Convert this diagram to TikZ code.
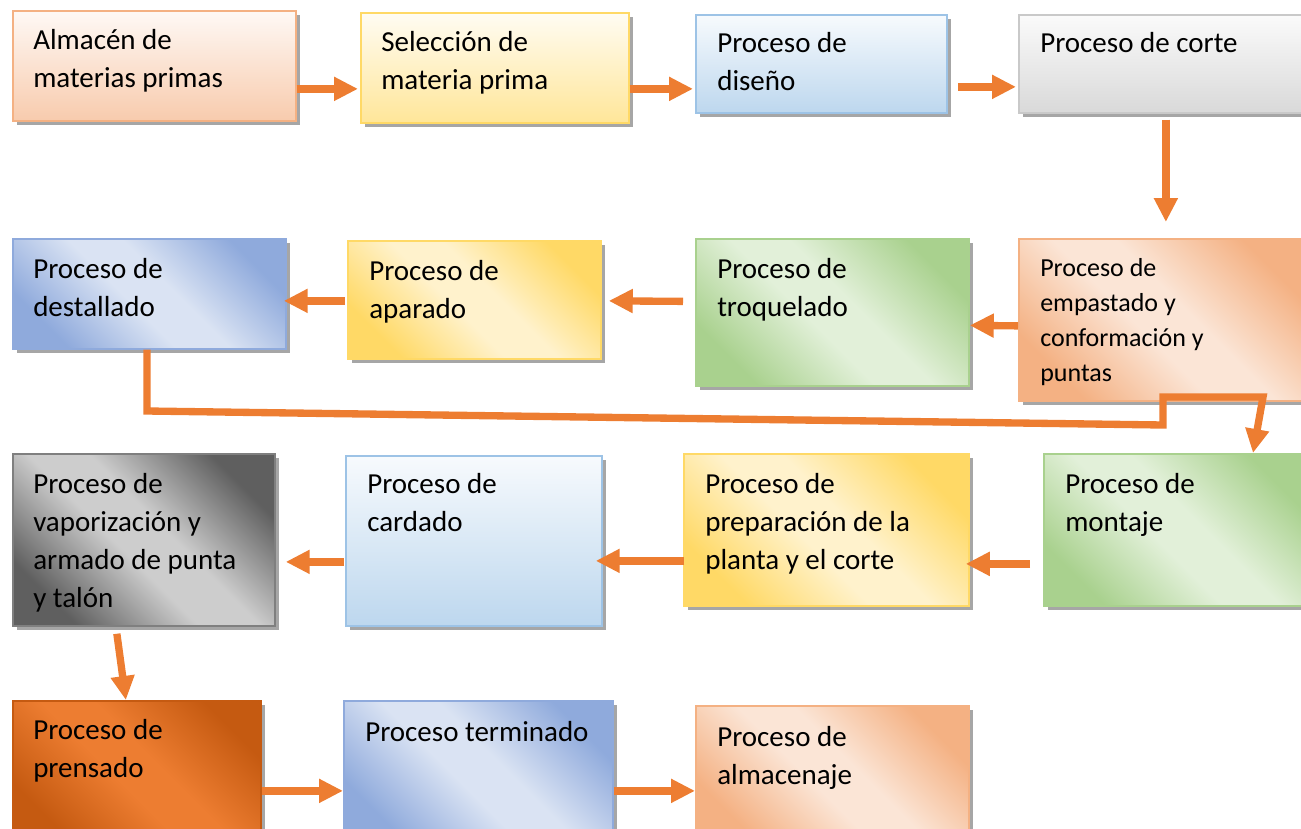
\documentclass[tikz,border=0pt]{standalone}
\usepackage{fontspec}
\setmainfont{Carlito}
\usetikzlibrary{arrows.meta,shadows,calc}
\definecolor{orng}{HTML}{ED7D31}
\definecolor{peach}{HTML}{F4B183}
\definecolor{peachL}{HTML}{FBE5D6}
\definecolor{peachM}{HTML}{F8CBAD}
\definecolor{yel}{HTML}{FFD966}
\definecolor{yelL}{HTML}{FFF2CC}
\definecolor{yelM}{HTML}{FFE699}
\definecolor{blu}{HTML}{8FAADC}
\definecolor{bluL}{HTML}{DAE3F3}
\definecolor{bluM}{HTML}{BDD7EE}
\definecolor{bluB}{HTML}{9DC3E6}
\definecolor{grn}{HTML}{A9D18E}
\definecolor{grnL}{HTML}{E2F0D9}
\definecolor{gryM}{HTML}{D9D9D9}
\definecolor{gryB}{HTML}{C9C9C9}
\definecolor{gryD}{HTML}{5F5F5F}
\definecolor{gryC}{HTML}{CDCDCD}
\definecolor{gryE}{HTML}{7F7F7F}
\definecolor{orD}{HTML}{C55A11}
\colorlet{dgA}{blu}
\colorlet{dgB}{bluL}
\pgfdeclareverticalshading[dgA,dgB]{diagsh}{100bp}{color(0bp)=(dgA); color(25bp)=(dgA); color(45bp)=(dgB); color(55bp)=(dgB); color(75bp)=(dgA); color(100bp)=(dgA)}
\tikzset{
  box/.style 2 args={rectangle, anchor=north west, inner sep=0pt,
    minimum width=#1*0.75pt, minimum height=#2*0.75pt, line width=1.3pt,
    drop shadow={shadow xshift=3pt, shadow yshift=-3pt, fill=black, opacity=0.35}},
  vg/.style 2 args={top color=#1!12!white, bottom color=#1, draw=#2},
  dg/.style n args={3}{/utils/exec={\colorlet{dgA}{#1}\colorlet{dgB}{#2}},
    shading=diagsh, shading angle=-45, draw=#3},
  lbl/.style={anchor=north west, inner sep=0pt, align=left,
    font=\fontsize{21.75pt}{28.5pt}\selectfont},
  lbls/.style={anchor=north west, inner sep=0pt, align=left,
    font=\fontsize{19.5pt}{26.25pt}\selectfont},
  arr/.style={draw=orng, line width=5.5pt, -{Triangle[length=18pt,width=17pt]}},
}
\begin{document}
\begin{tikzpicture}[x=0.75pt, y=-0.75pt]
\useasboundingbox (0,0) rectangle (1301,828);
% row 1
\node[box={283}{110}, vg={peachM}{peach}] (a1) at (12,10) {};
\node[box={268}{110}, vg={yelM}{yel}] (a2) at (360,12) {};
\node[box={251}{98}, vg={bluM}{bluB}] (a3) at (695,14) {};
\node[box={290}{98}, vg={gryM}{gryB}] (a4) at (1018,14) {};
% row 2
\node[box={273}{110}, dg={blu}{bluL}{blu}] (b1) at (12,238) {};
\node[box={253}{118}, dg={yel}{yelL}{yel}] (b2) at (347,240) {};
\node[box={273}{147}, dg={grn}{grnL}{grn}] (b3) at (695,238) {};
\node[box={290}{162}, dg={peach}{peachL}{peach}] (b4) at (1018,238) {};
% row 3
\node[box={262}{172}, dg={gryD}{gryC}{gryE}] (c1) at (12,453) {};
\node[box={256}{170}, vg={bluM}{bluB}] (c2) at (345,455) {};
\node[box={285}{152}, dg={yel}{yelL}{yel}] (c3) at (683,453) {};
\node[box={265}{152}, dg={grn}{grnL}{grn}] (c4) at (1043,453) {};
% row 4
\node[box={248}{140}, dg={orD}{orng}{orD}] (d1) at (12,700) {};
\node[box={269}{140}, dg={blu}{bluL}{blu}] (d2) at (343,700) {};
\node[box={273}{135}, dg={peach}{peachL}{peach}] (d3) at (695,705) {};
% texts
\node[lbl] (t1) at ($(a1.north west)+(21,13)$) {\strut Almacén de\\materias primas};
\node[lbl] (t2) at ($(a2.north west)+(21,13)$) {\strut Selección de\\materia prima};
\node[lbl] (t3) at ($(a3.north west)+(22,12)$) {\strut Proceso de\\diseño};
\node[lbl] (t4) at ($(a4.north west)+(22,12)$) {\strut Proceso de corte};
\node[lbl] (t5) at ($(b1.north west)+(21,14)$) {\strut Proceso de\\destallado};
\node[lbl] (t6) at ($(b2.north west)+(22,14)$) {\strut Proceso de\\aparado};
\node[lbl] (t7) at ($(b3.north west)+(22,14)$) {\strut Proceso de\\troquelado};
\node[lbls] (t8) at ($(b4.north west)+(22,14)$) {\strut Proceso de\\empastado y\\conformación y\\puntas};
\node[lbl] (t9) at ($(c1.north west)+(21,14)$) {\strut Proceso de\\vaporización y\\armado de punta\\y talón};
\node[lbl] (t10) at ($(c2.north west)+(22,12)$) {\strut Proceso de\\cardado};
\node[lbl] (t11) at ($(c3.north west)+(22,14)$) {\strut Proceso de\\preparación de la\\planta y el corte};
\node[lbl] (t12) at ($(c4.north west)+(22,14)$) {\strut Proceso de\\montaje};
\node[lbl] (t13) at ($(d1.north west)+(21,13)$) {\strut Proceso de\\prensado};
\node[lbl] (t14) at ($(d2.north west)+(22,15)$) {\strut Proceso terminado};
\node[lbl] (t15) at ($(d3.north west)+(22,15)$) {\strut Proceso de\\almacenaje};
% arrows row 1
\draw[arr] ($(a1.east)+(0,23)$) -- ($(a2.west)+(-2,21)$);
\draw[arr] ($(a2.east)+(0,21)$) -- ($(a3.west)+(-2,25)$);
\draw[arr] ($(a3.east)+(10,23)$) -- ($(a4.west)+(-2,23)$);
\draw[arr] ($(a4.south)+(2,6)$) -- ($(b4.north)+(2,-16)$);
% row 2
\draw[arr] ($(b4.west)+(0,6)$) -- ($(b3.east)+(0,13)$);
\draw[arr] ($(b3.west)+(-12,-11)$) -- ($(b2.east)+(7,1)$);
\draw[arr] ($(b2.west)+(-2,1)$) -- ($(b1.east)+(-3,7)$);
% loop connector
\coordinate (w1) at (147,411);
\coordinate (w2) at (1163,425);
\coordinate (w3) at (1163,397);
\coordinate (w4) at (1263,397);
\draw[arr] (b1.south -| w1) -- (w1) -- (w2) -- (w3) -- (w4) -- ($(c4.north west)+(210,0)$);
% row 3
\draw[arr] ($(c4.west)+(-13,34)$) -- ($(c3.east)+(-4,34)$);
\draw[arr] ($(c3.west)+(1,31)$) -- ($(c2.east)+(-7,20)$);
\draw[arr] ($(c2.west)+(-1,21)$) -- ($(c1.east)+(10,22)$);
\draw[arr] ($(c1.south)+(-27,7)$) -- ($(d1.north)+(-11,0)$);
% row 4
\draw[arr] ($(d1.east)+(0,20)$) -- ($(d2.west)+(0,20)$);
\draw[arr] ($(d2.east)+(0,20)$) -- ($(d3.west)+(0,17.5)$);
\end{tikzpicture}
\end{document}
